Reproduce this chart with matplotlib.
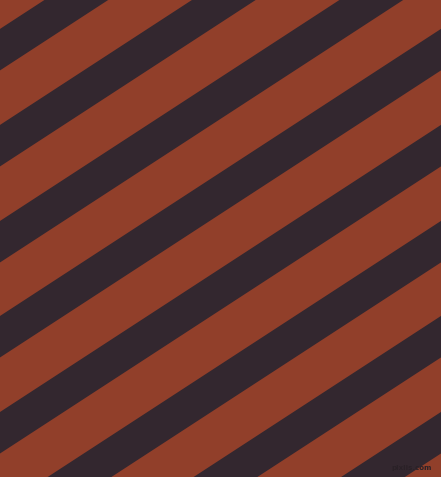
import matplotlib
matplotlib.use('Agg')
import matplotlib.pyplot as plt

# canvas size in pixels
width, height = 441, 477

# diagonal stripes
# y where the top edge of each dark band meets the left border
band_tops = [29, 125, 221, 316, 412, 508, 603, 699]
band_depth = 41.5      # vertical thickness of a dark band
slope = 0.651          # rise per pixel to the right (~33 degrees)

rust = '#913f2a'
plum = '#33272f'

fig = plt.figure(figsize=((width + 0.1) / 100, (height + 0.1) / 100), dpi=100)
ax = fig.add_axes([0, 0, 1, 1])
ax.set_xlim(0, width)
ax.set_ylim(height, 0)
ax.set_facecolor(rust)
ax.axis('off')
fig.patch.set_facecolor(rust)

for top in band_tops:
    xs = [0, width, width, 0]
    ys = [top, top - slope * width, top + band_depth - slope * width, top + band_depth]
    ax.fill(xs, ys, color=plum, linewidth=0, antialiased=True)

# little watermark in the corner
ax.text(432, 471, 'pixlis.com', ha='right', va='bottom', fontsize=5,
        color='#2a2127', fontweight='bold', family='DejaVu Sans')

fig.savefig('out.png', dpi=100, facecolor=rust)
